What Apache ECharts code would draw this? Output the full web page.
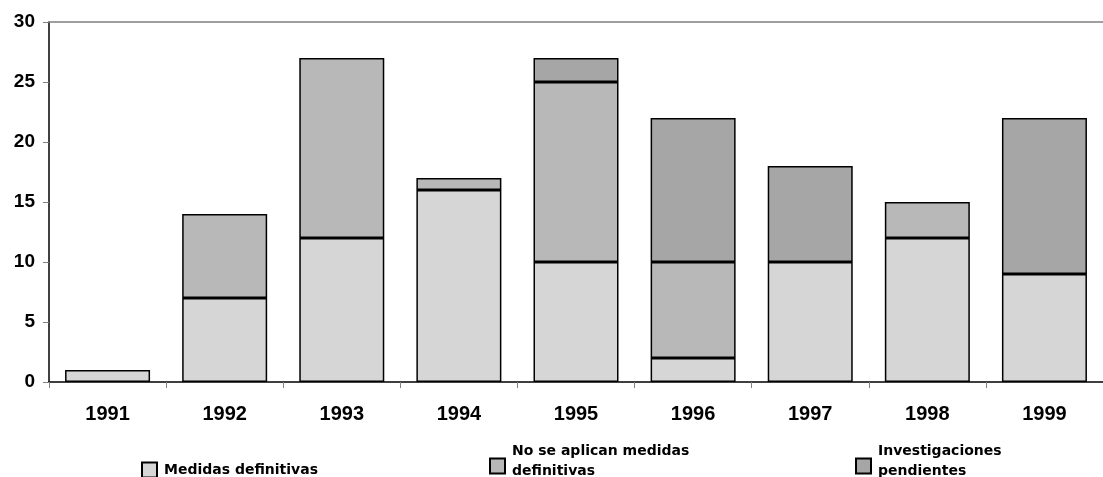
<!DOCTYPE html>
<html>
<head>
<meta charset="utf-8">
<script src="https://cdn.jsdelivr.net/npm/echarts@6/dist/echarts.min.js"></script>
<style>
  html, body { margin: 0; padding: 0; background: #fff; }
  #chart { width: 1103px; height: 477px; }
</style>
</head>
<body>
<div id="chart"></div>
<script>
var years = ['1991', '1992', '1993', '1994', '1995', '1996', '1997', '1998', '1999'];
var medidas = [1, 7, 12, 16, 10, 2, 10, 12, 9];
var noSeAplican = [0, 7, 15, 1, 15, 8, 0, 3, 0];
var pendientes = [0, 0, 0, 0, 2, 12, 8, 0, 13];
var yTicks = [0, 5, 10, 15, 20, 25, 30];

var colors = ['#d6d6d6', '#b8b8b8', '#a6a6a6'];
var names = ['Medidas definitivas', 'No se aplican medidas definitivas', 'Investigaciones pendientes'];
var labels = ['Medidas definitivas', 'No se aplican medidas\ndefinitivas', 'Investigaciones\npendientes'];

// icon sits in the lower part of a taller box so it lines up with the second text line
var lowIcon = 'path://M0,0 Z M0,10 L15,10 L15,25 L0,25 Z';

function toBar(vals) {
    return vals.map(function (v) { return v === 0 ? '-' : v; });
}

function legendAt(i, left, top, twoLines) {
    return {
        left: left,
        top: top,
        itemWidth: 15,
        itemHeight: twoLines ? 25 : 15,
        itemGap: 0,
        selectedMode: false,
        data: [{ name: names[i], icon: twoLines ? lowIcon : 'rect' }],
        formatter: function () { return labels[i]; },
        textStyle: {
            fontFamily: 'DejaVu Sans',
            fontWeight: 'bold',
            fontSize: 14,
            color: '#000',
            lineHeight: 20,
            padding: [0, 0, 0, 2]
        }
    };
}

var myChart = echarts.init(document.getElementById('chart'));
myChart.setOption({
    backgroundColor: '#fff',
    animation: false,
    grid: { left: 49, right: -11, top: 22, bottom: 95 },
    legend: [legendAt(0, 136, 455, false), legendAt(1, 484, 436, true), legendAt(2, 850, 436, true)],
    xAxis: [{
        type: 'category',
        data: years,
        axisLine: { lineStyle: { color: '#000', width: 1.5 } },
        axisTick: { show: true, length: 6, lineStyle: { color: '#808080' } },
        axisLabel: {
            margin: 22,
            fontFamily: 'Liberation Sans',
            fontWeight: 'bold',
            fontSize: 20,
            color: '#000'
        }
    }, {
        type: 'category',
        position: 'top',
        data: years,
        axisLine: { show: true, lineStyle: { color: '#808080', width: 1.5 } },
        axisTick: { show: false },
        axisLabel: { show: false }
    }],
    yAxis: {
        type: 'value',
        min: yTicks[0],
        max: yTicks[yTicks.length - 1],
        interval: yTicks[1] - yTicks[0],
        axisLine: { show: true, lineStyle: { color: '#000', width: 1.5 } },
        axisTick: { show: true, length: 6, lineStyle: { color: '#808080' } },
        splitLine: { show: false },
        axisLabel: {
            margin: 14,
            fontFamily: 'Liberation Sans',
            fontWeight: 'bold',
            fontSize: 19,
            color: '#000'
        }
    },
    series: [medidas, noSeAplican, pendientes].map(function (vals, i) {
        return {
            name: names[i],
            type: 'bar',
            stack: 'total',
            barWidth: 85,
            data: toBar(vals),
            itemStyle: { color: colors[i], borderColor: '#000', borderWidth: 1.5 }
        };
    })
});
</script>
</body>
</html>
